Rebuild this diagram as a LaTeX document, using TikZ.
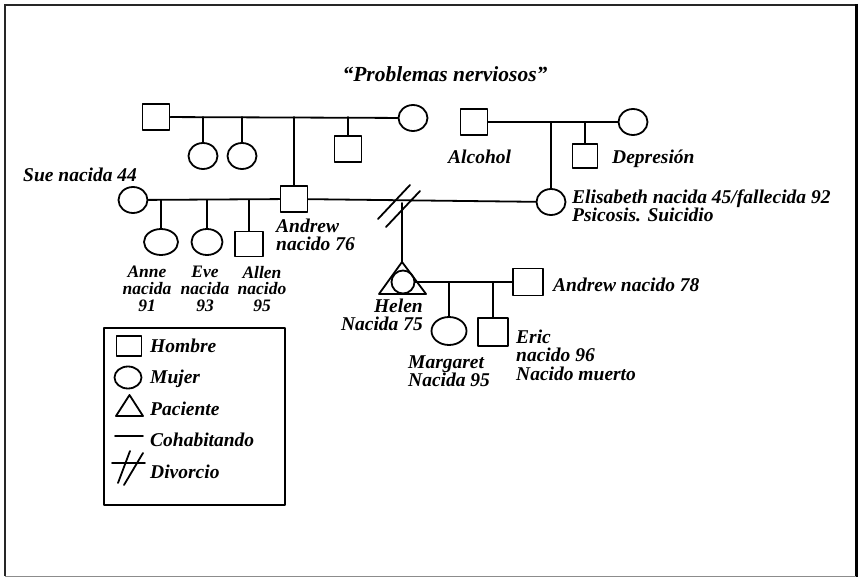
\documentclass[tikz,border=0pt]{standalone}
\usepackage{fontspec}
\usetikzlibrary{shapes.geometric}
% slanted heavy face for all labels
\newfontfamily\handfont{Liberation Serif}
\tikzset{
  stroke/.style={line width=1.8pt, line cap=round, line join=round},
  male/.style={draw, stroke, rectangle, minimum width=27pt, minimum height=26pt, inner sep=0pt},
  female/.style={draw, stroke, ellipse, minimum width=29pt, minimum height=26pt, inner sep=0pt},
  lbl/.style={font=\handfont\bfseries\itshape\fontsize{19.5}{18}\selectfont, inner sep=0pt},
  lblblock/.style={lbl, align=#1},
  narrow/.style={font=\handfont\bfseries\itshape\fontsize{17.5}{16.8}\selectfont},
  legendtxt/.style={lbl, anchor=west},
}
\begin{document}
\begin{tikzpicture}[x=1pt, y=-1pt]
  \useasboundingbox (0,0) rectangle (858,577);
  % page frame
  \draw[line width=2.5pt, black!85] (5,576) -- (5,5) -- (856,5);
  \draw[line width=3pt, black] (856.5,4) -- (856.5,577);
  \draw[line width=1pt, black!45] (5,576) -- (856,576);

  % title
  \node[lbl, font=\handfont\bfseries\itshape\fontsize{21.5}{21.5}\selectfont] (title) at (445,74) {“Problemas nerviosos”};

  % paternal grandparents and their children
  \node[male] (gfa) at (156,117) {};
  \node[female] (gma) at (413,118) {};
  \draw[stroke] (gfa) -- (gma);
  \node[female] (aunta) at (203,156) {};
  \node[female] (auntb) at (242,156) {};
  \node[male] (uncla) at (348,149) {};
  \node[male] (andrew) at (294,199) {};
  \draw[stroke] (aunta) -- (aunta |- gfa);
  \draw[stroke] (auntb) -- (auntb |- gfa);
  \draw[stroke] (uncla) -- (uncla |- gfa);
  \draw[stroke] (andrew) -- (andrew |- gfa);

  % maternal grandparents and their children
  \node[male] (gfb) at (474,122) {};
  \node[female] (gmb) at (633,122) {};
  \draw[stroke] (gfb) -- (gmb);
  \node[male, minimum width=25pt, minimum height=24pt] (unclb) at (585,156) {};
  \node[female] (elis) at (551,202) {};
  \draw[stroke] (unclb) -- (unclb |- gfb);
  \draw[stroke] (elis) -- (elis |- gfb);

  % Sue, Andrew and their children
  \node[female] (sue) at (133,200) {};
  \draw[stroke] (sue) -- (andrew);
  \node[female, minimum width=34pt] (anne) at (161,242) {};
  \node[female, minimum width=31pt] (eve) at (207,242) {};
  \node[male, minimum width=28pt, minimum height=25pt] (allen) at (249,244) {};
  \draw[stroke] (anne) -- (anne |- sue);
  \draw[stroke] (eve) -- (eve |- sue);
  \draw[stroke] (allen) -- (allen |- sue);

  % Andrew and Elisabeth, divorced
  \draw[stroke] (andrew) -- (elis);
  \coordinate (divmid) at (402,203);
  \draw[stroke] (410,185) -- (378,219);
  \draw[stroke] (420,191) -- (386,227);

  % Helen (patient) with Andrew and their children
  \coordinate (helenapex) at (402,262);
  \draw[stroke] (helenapex) -- (426,294) -- (379,294) -- cycle;
  \draw[stroke] (divmid) -- (helenapex);
  \node[draw, stroke, circle, minimum size=23pt, inner sep=0pt] (helen) at (403,282) {};
  \node[male, minimum width=30pt, minimum height=27pt] (andrewb) at (528,282) {};
  \draw[stroke] (helen) -- (andrewb);
  \node[female, minimum width=35pt, minimum height=28pt] (marg) at (449,331) {};
  \node[male, minimum width=30pt, minimum height=28pt] (eric) at (493,332) {};
  \draw[stroke] (marg) -- (marg |- helen);
  \draw[stroke] (eric) -- (eric |- helen);

  % labels
  \node[lbl, anchor=west] (tsue) at (23,175) {Sue nacida 44};
  \node[lblblock=center, narrow] (tanne) at (147,289) {Anne\\nacida\\91};
  \node[lblblock=center, narrow] (teve) at (205,289) {Eve\\nacida\\93};
  \node[lblblock=center, narrow] (tallen) at (262,289) {Allen\\nacido\\95};
  \node[lblblock=left, anchor=west] (tandrew) at (276,235) {Andrew\\nacido 76};
  \node[lbl, anchor=west] (talc) at (448,157) {Alcohol};
  \node[lbl, anchor=west] (tdep) at (612,159) {Depresión};
  \node[lblblock=left, anchor=west] (telis) at (572,206) {Elisabeth nacida 45/fallecida 92\\Psicosis. Suicidio};
  \node[lblblock=right, anchor=east] (thelen) at (423,315) {Helen\\Nacida 75};
  \node[lbl, anchor=west] (tandrewb) at (553,285) {Andrew nacido 78};
  \node[lblblock=left, anchor=west] (tmarg) at (408,371) {Margaret\\Nacida 95};
  \node[lblblock=left, anchor=west, font=\handfont\bfseries\itshape\fontsize{19.5}{18.5}\selectfont] (teric) at (516,355) {Eric\\nacido 96\\Nacido muerto};

  % legend
  \node[draw, stroke, minimum width=181pt, minimum height=177pt, inner sep=0pt] (legend) at (194.5,416.5) {};
  \node[male, minimum width=25pt, minimum height=20pt] (kmale) at (129,346) {};
  \node[female, minimum width=27pt, minimum height=22pt] (kfemale) at (128,377.5) {};
  \draw[stroke] (129.5,395) -- (143,416) -- (116,416) -- cycle;
  \coordinate (kcoha) at (115,436);
  \coordinate (kcohb) at (143,436);
  \draw[stroke] (kcoha) -- (kcohb);
  \coordinate (kdiva) at (112,463);
  \coordinate (kdivb) at (145,463);
  \draw[stroke] (kdiva) -- (kdivb);
  \draw[stroke] (130,451) -- (118,483);
  \draw[stroke] (143,453) -- (124,485);
  \node[legendtxt] (thombre) at (150,346) {Hombre};
  \node[legendtxt] (tmujer) at (150,379) {Mujer};
  \node[legendtxt] (tpac) at (150,409) {Paciente};
  \node[legendtxt] (tcoh) at (150,440) {Cohabitando};
  \node[legendtxt] (tdiv) at (150,472) {Divorcio};
\end{tikzpicture}
\end{document}
